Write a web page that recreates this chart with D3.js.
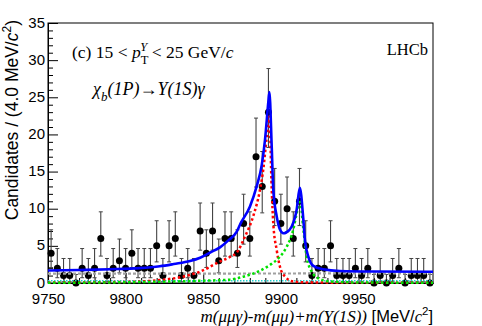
<!DOCTYPE html>
<html>
<head>
<meta charset="utf-8">
<script src="https://cdn.jsdelivr.net/npm/d3@7"></script>
<style>
body { margin: 0; background: #fff; }
svg { display: block; }
.sans { font-family: "Liberation Sans", Arial, Helvetica, sans-serif; }
.serif { font-family: "Liberation Serif", "Times New Roman", Times, serif; }
</style>
</head>
<body>
<div id="chart"></div>
<script>
const W = 482, H = 326;
const margin = {top: 23, right: 49, bottom: 43, left: 48};

// mass range and binning (4 MeV bins)
const massRange = [9750, 9998];
const binWidth = 4;

// candidates per bin, left to right
const counts = [4, 2, 1, 1, 0, 2, 1, 2, 6, 1, 2, 3, 2, 4, 2, 2, 2, 5, 1, 5, 6, 1, 2, 1, 7,
                4, 7, 3, 6, 6, 4, 8, 6, 17, 13, 23, 11, 8, 10, 6, 11, 5, 1, 2, 2, 5, 1,
                1, 1, 2, 1, 2, 0, 1, 0, 1, 2, 0, 1, 1, 1, 0];

// poisson interval edges, indexed by count
const bandLow  = [0, 0.17, 0.71, 1.37, 2.09, 2.84, 3.62, 4.42, 5.23, 6.06, 6.89, 7.73,
                  8.58, 9.44, 10.30, 11.17, 12.04, 12.92, 13.80, 14.68, 15.57, 16.45, 17.35, 18.24];
const bandHigh = [1.15, 3.30, 4.64, 5.92, 7.16, 8.38, 9.58, 10.77, 11.95, 13.11, 14.27, 15.42,
                  16.56, 17.70, 18.83, 19.96, 21.08, 22.20, 23.32, 24.44, 25.55, 26.66, 27.76, 28.87];

// fit curves: [mass, candidates]
const totalFit = [[9750, 1.68], [9770, 1.75], [9790, 1.85], [9809, 2.0], [9822, 2.25], [9831, 2.55],
                  [9841.5, 2.95], [9848, 3.4], [9854.4, 4.1], [9860.8, 4.8], [9866, 5.7], [9871.6, 6.9],
                  [9874, 8.0], [9880.1, 10.3], [9884.4, 13.0], [9887.7, 15.9], [9889.8, 19.3],
                  [9891.9, 24.3], [9892.6, 25.7], [9894.1, 18.4], [9895.1, 12.6], [9897.3, 9.0],
                  [9899.4, 7.2], [9901.6, 6.7], [9903.5, 6.8], [9907, 7.6], [9910.2, 9.9],
                  [9912.2, 12.8], [9914.5, 8.5], [9915.5, 5.8], [9917.7, 3.55], [9920.9, 2.3],
                  [9927.3, 1.85], [9938, 1.62], [9960, 1.55], [9998, 1.52]];
const chib1Fit = [[9750, 0.05], [9790, 0.12], [9809, 0.2], [9822, 0.4], [9835, 0.77], [9848, 1.53],
                  [9860.8, 2.9], [9867.2, 3.5], [9871.6, 4.1], [9876.9, 6.26], [9882.2, 9.0],
                  [9886.6, 12.6], [9888.8, 15.5], [9890.8, 19.5], [9892.6, 22.4], [9894.1, 12.6],
                  [9895.1, 8.07], [9897.3, 4.46], [9899.4, 2.2], [9902.7, 0.85], [9908, 0.2],
                  [9920, 0.06], [9998, 0.02]];
const chib2Fit = [[9750, 0.02], [9800, 0.1], [9848, 0.3], [9867.2, 0.45], [9875.8, 0.85],
                  [9886.6, 1.66], [9893, 2.43], [9899.4, 3.55], [9903.8, 4.9], [9908, 7.2],
                  [9910.2, 9.4], [9912.3, 11.2], [9914.5, 7.2], [9916.6, 3.55], [9919.9, 1.53],
                  [9924.1, 0.63], [9932, 0.2], [9950, 0.07], [9998, 0.03]];
const bkgFit = [[9750, 1.25], [9998, 1.3]];
const chib0Fit = [[9750, 0.3], [9998, 0.3]];

const yTicks = [0, 5, 10, 15, 20, 25, 30, 35];
const xTicks = [9750, 9800, 9850, 9900, 9950];

const svg = d3.select("#chart").append("svg")
    .attr("width", W)
    .attr("height", H);

const x = d3.scaleLinear().domain(massRange).range([margin.left, W - margin.right]);
const y = d3.scaleLinear().domain([0, 35]).range([H - margin.bottom, margin.top]);

// axes, ticks pointing into the frame
const yMinor = d3.range(0, 36, 1).filter(v => v % 5 !== 0);
const xMinor = d3.range(9760, 9998, 10).filter(v => v % 50 !== 0);

svg.append("g")
    .attr("transform", `translate(${margin.left},0)`)
    .call(d3.axisLeft(y).tickValues(yMinor).tickSize(-5).tickSizeOuter(0).tickFormat(""));
svg.append("g")
    .attr("transform", `translate(0,${H - margin.bottom})`)
    .call(d3.axisBottom(x).tickValues(xMinor).tickSize(-5).tickSizeOuter(0).tickFormat(""));

svg.append("g")
    .attr("class", "sans")
    .attr("transform", `translate(${margin.left},0)`)
    .call(d3.axisLeft(y).tickValues(yTicks).tickSize(-10).tickSizeOuter(0).tickPadding(3))
    .call(g => g.selectAll("text").attr("font-size", 15).attr("font-family", null).attr("dy", "0.27em"));
svg.append("g")
    .attr("class", "sans")
    .attr("transform", `translate(0,${H - margin.bottom})`)
    .call(d3.axisBottom(x).tickValues(xTicks).tickSize(-10).tickSizeOuter(0).tickPadding(10)
        .tickFormat(d3.format("d")))
    .call(g => g.selectAll("text").attr("font-size", 15).attr("font-family", null));

svg.selectAll(".domain").attr("stroke", "#000");

// frame
svg.append("rect")
    .attr("x", margin.left).attr("y", margin.top)
    .attr("width", W - margin.left - margin.right)
    .attr("height", H - margin.top - margin.bottom)
    .attr("fill", "none")
    .attr("stroke", "#000");

// data points with error bars
const binCenter = i => massRange[0] + binWidth * (i + 0.5);
const pts = svg.append("g").attr("id", "data");

pts.selectAll("line.err")
    .data(counts)
    .enter()
    .append("line")
    .attr("class", "err")
    .attr("x1", (d, i) => x(binCenter(i)))
    .attr("x2", (d, i) => x(binCenter(i)))
    .attr("y1", d => y(bandLow[d]))
    .attr("y2", d => y(bandHigh[d]))
    .attr("stroke", "#444")
    .attr("stroke-width", 1.1);

pts.selectAll("line.capTop")
    .data(counts)
    .enter()
    .append("line")
    .attr("class", "capTop")
    .attr("x1", (d, i) => x(binCenter(i)) - 2)
    .attr("x2", (d, i) => x(binCenter(i)) + 2)
    .attr("y1", d => y(bandHigh[d]))
    .attr("y2", d => y(bandHigh[d]))
    .attr("stroke", "#444");

pts.selectAll("line.capBot")
    .data(counts)
    .enter()
    .append("line")
    .attr("class", "capBot")
    .attr("x1", (d, i) => x(binCenter(i)) - 2)
    .attr("x2", (d, i) => x(binCenter(i)) + 2)
    .attr("y1", d => y(bandLow[d]))
    .attr("y2", d => y(bandLow[d]))
    .attr("stroke", d => d > 0 ? "#444" : "none");

pts.selectAll("circle")
    .data(counts)
    .enter()
    .append("circle")
    .attr("cx", (d, i) => x(binCenter(i)))
    .attr("cy", d => y(d))
    .attr("r", 3.5)
    .attr("fill", "#000");

// fit components
const lineGen = d3.line()
    .x(d => x(d[0]))
    .y(d => y(d[1]))
    .curve(d3.curveMonotoneX);

const curves = [
    {data: bkgFit,   color: "#a0a0a0", width: 2.2, dash: "3,2"},
    {data: chib0Fit, color: "#22cccc", width: 1.6, dash: "1.5,1.5"},
    {data: chib1Fit, color: "#ff0000", width: 2.5, dash: "2.5,2.5"},
    {data: chib2Fit, color: "#00e000", width: 2.5, dash: "2.5,2.5"},
    {data: totalFit, color: "#0000ff", width: 2.6, dash: null}
];

svg.append("g").attr("id", "fit")
    .selectAll("path")
    .data(curves)
    .enter()
    .append("path")
    .attr("d", c => lineGen(c.data))
    .attr("fill", "none")
    .attr("stroke", c => c.color)
    .attr("stroke-width", c => c.width)
    .attr("stroke-dasharray", c => c.dash);

// y axis title
const yTitle = svg.append("text")
    .attr("class", "sans")
    .attr("font-size", 17.5)
    .attr("text-anchor", "end")
    .attr("transform", `translate(18,${margin.top - 3}) rotate(-90)`);
yTitle.append("tspan").text("Candidates / (4.0 MeV/");
yTitle.append("tspan").attr("font-style", "italic").text("c");
yTitle.append("tspan").attr("font-size", 12).attr("dy", -7).text("2");
yTitle.append("tspan").attr("dy", 7).text(")");

// x axis title
const xTitle = svg.append("text")
    .attr("text-anchor", "end")
    .attr("x", W - margin.right)
    .attr("y", 322);
xTitle.append("tspan").attr("class", "serif").attr("font-style", "italic").attr("font-size", 17)
    .text("m(\u03bc\u03bc\u03b3)-m(\u03bc\u03bc)+m(Y(1S))");
xTitle.append("tspan").attr("class", "sans").attr("font-size", 16.5).text(" [MeV/");
xTitle.append("tspan").attr("class", "serif").attr("font-style", "italic").attr("font-size", 16.5).text("c");
xTitle.append("tspan").attr("class", "sans").attr("font-size", 11.5).attr("dy", -7).text("2");
xTitle.append("tspan").attr("class", "sans").attr("font-size", 16.5).attr("dy", 7).text("]");

// labels inside the frame
const label1 = svg.append("text")
    .attr("class", "serif")
    .attr("font-size", 17.5)
    .attr("x", 72).attr("y", 58);
label1.append("tspan").text("(c) 15 < ");
label1.append("tspan").attr("font-style", "italic").text("p");
label1.append("tspan").attr("font-size", 12.5).attr("dy", 6).text("T");
label1.append("tspan").attr("font-size", 12.5).attr("font-style", "italic").attr("dx", -8).attr("dy", -13).text("Y");
label1.append("tspan").attr("dy", 7).text(" < 25 GeV/");
label1.append("tspan").attr("font-style", "italic").text("c");

const label2 = svg.append("text")
    .attr("class", "serif")
    .attr("font-size", 18)
    .attr("font-style", "italic")
    .attr("x", 93).attr("y", 95);
label2.append("tspan").text("\u03c7");
label2.append("tspan").attr("font-size", 13).attr("dy", 6).text("b");
label2.append("tspan").attr("dy", -6).text("(1P)");
label2.append("tspan").attr("font-style", "normal").text("\u2192");
label2.append("tspan").text("Y(1S)\u03b3");

svg.append("text")
    .attr("class", "serif")
    .attr("font-size", 16.5)
    .attr("text-anchor", "end")
    .attr("x", 428).attr("y", 55)
    .text("LHCb");
</script>
</body>
</html>
